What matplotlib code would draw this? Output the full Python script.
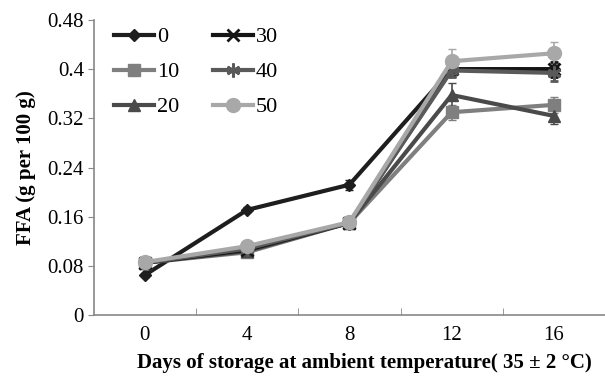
import matplotlib.pyplot as plt
import numpy as np

days = ['0', '4', '8', '12', '16']
series = ['0', '10', '20', '30', '40', '50']

ffa_0 = [0.065, 0.171, 0.212, 0.400, 0.400]
ffa_10 = [0.085, 0.102, 0.150, 0.330, 0.342]
ffa_20 = [0.085, 0.104, 0.150, 0.358, 0.324]
ffa_30 = [0.085, 0.106, 0.150, 0.400, 0.400]
ffa_40 = [0.085, 0.108, 0.150, 0.398, 0.394]
ffa_50 = [0.086, 0.112, 0.151, 0.413, 0.426]

err_0 = [0.003, 0.004, 0.008, 0.012, 0.010]
err_10 = [0.003, 0.004, 0.004, 0.012, 0.013]
err_20 = [0.003, 0.004, 0.004, 0.020, 0.013]
err_30 = [0.003, 0.004, 0.004, 0.010, 0.012]
err_40 = [0.003, 0.004, 0.004, 0.010, 0.013]
err_50 = [0.003, 0.004, 0.004, 0.020, 0.018]

values = [ffa_0, ffa_10, ffa_20, ffa_30, ffa_40, ffa_50]
errors = [err_0, err_10, err_20, err_30, err_40, err_50]
colors = ['#1e1e1e', '#7f7f7f', '#4a4a4a', '#151515', '#5a5a5a', '#a8a8a8']
markers = ['D', 's', '^', 'x', (6, 2, 0), 'o']
msizes = [6, 9, 9, 9, 10, 10]

plt.rcParams['font.family'] = 'Liberation Serif'

fig = plt.figure(figsize=(6.05, 3.79), dpi=100)
ax = fig.add_axes([0.155, 0.169, 0.845, 0.778])

x = np.arange(len(days))
handles = []
for name, v, e, c, m, ms in zip(series, values, errors, colors, markers, msizes):
    thin = m in ('x', (6, 2, 0))
    cont = ax.errorbar(x, v, yerr=e, color=c, marker=m, markersize=ms, linewidth=3,
                       markeredgewidth=2 if thin else 1, markeredgecolor=c,
                       capsize=3, elinewidth=1.2, capthick=1.5, label=name)
    handles.append(cont[0])

ax.set_xlim(-0.5, len(days) - 0.5)
ax.set_ylim(0, 0.48)
yt = [0, 0.08, 0.16, 0.24, 0.32, 0.4, 0.48]
ax.set_yticks(yt)
ax.set_yticklabels(['0', '0.08', '0.16', '0.24', '0.32', '0.4', '0.48'], fontsize=15)
ax.set_xticks(x)
ax.set_xticklabels(days, fontsize=15)
ax.set_xticks(np.arange(len(days)) + 0.5, minor=True)
ax.tick_params(axis='x', which='major', length=0, pad=8)
ax.tick_params(axis='x', which='minor', length=5, color='#888888', direction='in')
ax.tick_params(axis='y', length=4, color='#888888', pad=3)

for s in ['top', 'right']:
    ax.spines[s].set_visible(False)
for s in ['left', 'bottom']:
    ax.spines[s].set_color('#888888')
    ax.spines[s].set_linewidth(1.2)

ax.set_ylabel('FFA (g per 100 g)', fontsize=15, fontweight='bold', labelpad=8)
ax.set_xlabel('Days of storage at ambient temperature( 35 ± 2 °C)', fontsize=15,
              fontweight='bold', labelpad=6)
ax.xaxis.set_label_coords(0.53, -0.13)

ax.legend(handles=handles, labels=series, ncol=2, loc='upper left',
          bbox_to_anchor=(0.0, 1.045), frameon=False,
          fontsize=16, handlelength=1.8, handletextpad=0.15, columnspacing=1.5,
          labelspacing=0.65)

plt.savefig('out.png', dpi=100)
